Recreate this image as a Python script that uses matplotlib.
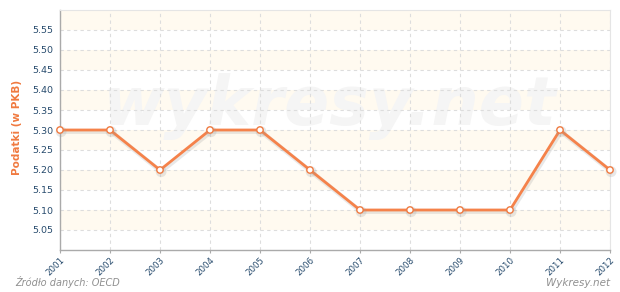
import matplotlib
matplotlib.use("Agg")
import matplotlib.pyplot as plt
import matplotlib.patheffects as pe

years = ["2001", "2002", "2003", "2004", "2005", "2006", "2007", "2008", "2009", "2010", "2011", "2012"]
values = [5.30, 5.30, 5.20, 5.30, 5.30, 5.20, 5.10, 5.10, 5.10, 5.10, 5.30, 5.20]
yticks = [5.05, 5.10, 5.15, 5.20, 5.25, 5.30, 5.35, 5.40, 5.45, 5.50, 5.55]

W, H = 620, 292
fig = plt.figure(figsize=(W/100, H/100), dpi=100)
ax = fig.add_axes([60/W, (H-250)/H, 550/W, 240/H])

ax.set_xlim(0, len(years)-1)
ax.set_ylim(5.0, 5.6)

# alternating bands
for lo in [5.05, 5.15, 5.25, 5.35, 5.45, 5.55]:
    ax.axhspan(lo, lo+0.05, color="#FFFAF0", zorder=0, lw=0)

ax.set_yticks(yticks)
ax.set_yticklabels([f"{v:.2f}" for v in yticks])
ax.set_xticks(range(len(years)))
ax.set_xticklabels(years, rotation=45, ha="right", va="top", rotation_mode="anchor")
ax.grid(True, color="#DDDDDD", linestyle=(0, (3, 3)), linewidth=0.8, zorder=1)

ax.tick_params(axis="y", length=0, labelsize=6.8, labelcolor="#274B6D", pad=5)
ax.tick_params(axis="x", length=2.5, color="#AAAAAA", labelsize=6.2, labelcolor="#274B6D", pad=1.2)

for s in ["top", "right"]:
    ax.spines[s].set_color("#E5E5E5")
    ax.spines[s].set_linewidth(0.8)
for s in ["left", "bottom"]:
    ax.spines[s].set_color("#AAAAAA")
    ax.spines[s].set_linewidth(1.0)

# watermark
ax.text(0.49, 0.60, "wykresy.net", transform=ax.transAxes, ha="center", va="center",
        fontsize=48, fontweight="bold", fontstyle="italic", color="#F5F5F5", zorder=1.5)

x = list(range(len(years)))
ax.plot(x, values, color="#F5824A", linewidth=2.0, zorder=3, clip_on=False,
        path_effects=[pe.SimpleLineShadow(offset=(0.8, -1.2), shadow_color="#999999", alpha=0.22, linewidth=3.2), pe.Normal()],
        marker="o", markersize=4.6, markerfacecolor="white", markeredgecolor="#F07A40", markeredgewidth=1.0)

ax.set_ylabel("Podatki (w PKB)", color="#F07A40", fontsize=7.5, fontweight="bold")
ax.yaxis.set_label_coords(-38/550, 0.51)

fig.text(15/W, 1-286/H, "Źródło danych: OECD", fontsize=7, fontstyle="italic", color="#909090", ha="left", va="baseline")
fig.text(610/W, 1-286/H, "Wykresy.net", fontsize=7.5, fontstyle="italic", color="#909090", ha="right", va="baseline")

fig.savefig("out.png", dpi=100, facecolor="white")
